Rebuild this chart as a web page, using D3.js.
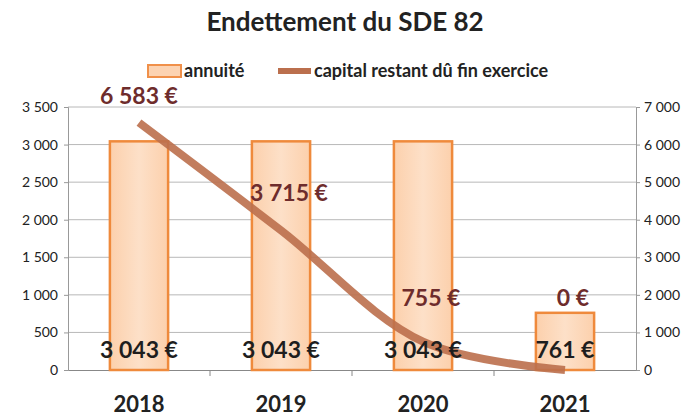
<!DOCTYPE html>
<html>
<head>
<meta charset="utf-8">
<script src="https://cdn.jsdelivr.net/npm/d3@7"></script>
<style>
  body { margin: 0; background: #fff; }
  svg { font-family: Lato, "Open Sans", sans-serif; }
</style>
</head>
<body>
<div id="chart"></div>
<script>
// data
var years = ["2018", "2019", "2020", "2021"];
var annuite = [3043, 3043, 3043, 761];
var capital = [6583, 3715, 755, 0];
var leftTicks = [0, 500, 1000, 1500, 2000, 2500, 3000, 3500];
var rightTicks = [0, 1000, 2000, 3000, 4000, 5000, 6000, 7000];

var W = 695, H = 416;
var margin = {top: 107, right: 59, bottom: 46, left: 68},
    width = W - margin.left - margin.right,
    height = H - margin.top - margin.bottom;

var fr = d3.formatLocale({decimal: ",", thousands: " ", grouping: [3], currency: ["", " €"]});
var fmt = fr.format(",d");

var svg = d3.select("#chart").append("svg")
    .attr("width", W)
    .attr("height", H);

// title
svg.append("text")
  .attr("x", 345).attr("y", 31)
  .attr("text-anchor", "middle")
  .style("font-size", "26px").style("font-weight", "bold").style("fill", "#222")
  .text("Endettement du SDE 82");

// legend
var lg = svg.append("g");
lg.append("rect").attr("x", 148).attr("y", 65).attr("width", 33).attr("height", 12)
  .attr("fill", "#fcd3b2").attr("stroke", "#f0904a").attr("stroke-width", 2);
lg.append("text").attr("x", 184).attr("y", 77).style("font-size", "18px").style("font-weight", "bold").style("fill", "#222")
  .text("annuité");
lg.append("line").attr("x1", 278).attr("x2", 311).attr("y1", 71).attr("y2", 71)
  .attr("stroke", "#bb6f4d").attr("stroke-width", 6);
lg.append("text").attr("x", 314).attr("y", 77).style("font-size", "18px").style("font-weight", "bold").style("fill", "#222")
  .text("capital restant dû fin exercice");

var g = svg.append("g").attr("transform", "translate(" + margin.left + "," + margin.top + ")");

var x = d3.scaleBand().domain(years).range([0, width]).paddingInner(0.59).paddingOuter(0.295);
var xc = d3.scaleBand().domain(years).range([0, width]);
var yL = d3.scaleLinear().domain([0, 3500]).range([height, 0]);
var yR = d3.scaleLinear().domain([0, 7000]).range([height, 0]);

// gridlines
g.append("g").selectAll("line").data(leftTicks.slice(1)).join("line")
  .attr("x1", 0).attr("x2", width)
  .attr("y1", d => yL(d)).attr("y2", d => yL(d))
  .attr("stroke", "#b8b8b8").attr("stroke-width", 1);

// axes
var axL = g.append("g").call(d3.axisLeft(yL).tickValues(leftTicks).tickFormat(fmt).tickSize(4).tickPadding(6));
var axR = g.append("g").attr("transform", "translate(" + width + ",0)")
  .call(d3.axisRight(yR).tickValues(rightTicks).tickFormat(fmt).tickSize(4).tickPadding(4));
[axL, axR].forEach(function(a) {
  a.select(".domain").attr("stroke", "#999");
  a.selectAll(".tick line").attr("stroke", "#999");
  a.selectAll(".tick text").style("font-size", "14px").style("fill", "#222").style("font-family", "Lato, sans-serif");
});

// category axis
var axX = g.append("g").attr("transform", "translate(0," + height + ")")
  .call(d3.axisBottom(xc).tickSize(0).tickPadding(26));
axX.select(".domain").attr("stroke", "#888");
axX.selectAll(".tick text").style("font-size", "22px").style("font-weight", "bold")
  .style("fill", "#222").style("font-family", "Lato, sans-serif");
g.append("g").selectAll("line").data(years.slice(1)).join("line")
  .attr("x1", d => xc(d)).attr("x2", d => xc(d))
  .attr("y1", height).attr("y2", height + 6)
  .attr("stroke", "#888");

// bars
var grad = svg.append("defs").append("linearGradient").attr("id", "bg")
  .attr("x1", 0).attr("x2", 1).attr("y1", 0).attr("y2", 0);
grad.append("stop").attr("offset", "0%").attr("stop-color", "#fcd0ac");
grad.append("stop").attr("offset", "50%").attr("stop-color", "#fde0c8");
grad.append("stop").attr("offset", "100%").attr("stop-color", "#fcd0ac");

g.append("g").selectAll("rect").data(annuite).join("rect")
  .attr("x", (d, i) => x(years[i]))
  .attr("y", d => yL(d))
  .attr("width", x.bandwidth())
  .attr("height", d => height - yL(d))
  .attr("fill", "url(#bg)")
  .attr("stroke", "#ef8a3c").attr("stroke-width", 2.5);

// line
var line = d3.line()
  .x((d, i) => xc(years[i]) + xc.bandwidth() / 2)
  .y(d => yR(d))
  .curve(d3.curveCatmullRom);
g.append("path").datum(capital)
  .attr("fill", "none")
  .attr("stroke", "#bb6f4d").attr("stroke-opacity", 0.9)
  .attr("stroke-width", 8).attr("stroke-linecap", "butt")
  .attr("d", line);

// bar labels
g.append("g").selectAll("text").data(annuite).join("text")
  .attr("x", (d, i) => x(years[i]) + x.bandwidth() / 2)
  .attr("y", height - 12)
  .attr("text-anchor", "middle")
  .style("font-size", "23px").style("font-weight", "bold").style("fill", "#1e1e1e")
  .text(d => fmt(d) + " €");

// line labels
g.append("g").selectAll("text").data(capital).join("text")
  .attr("x", (d, i) => xc(years[i]) + xc.bandwidth() / 2 + (i === 0 ? 0 : 8))
  .attr("y", d => Math.min(Math.max(yR(d) - 29, -3), yR(0) - 64))
  .attr("text-anchor", "middle")
  .style("font-size", "23px").style("font-weight", "bold").style("fill", "#6e2c2c")
  .text(d => fmt(d) + " €");
</script>
</body>
</html>
